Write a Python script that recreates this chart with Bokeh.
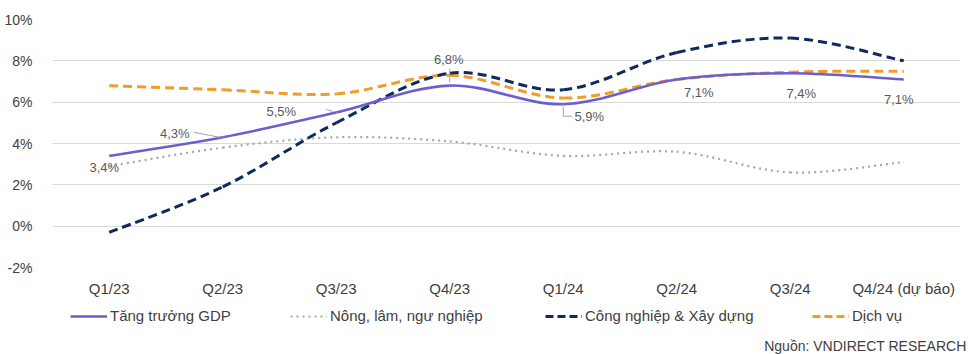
from bokeh.plotting import figure
from bokeh.layouts import column
from bokeh.models import (ColumnDataSource, Range1d, FixedTicker, Legend, LegendItem, Label)
from bokeh.core.properties import value
from bokeh.embed import file_html
from bokeh.resources import INLINE

# ---------------- data ----------------
categories = ["Q1/23", "Q2/23", "Q3/23", "Q4/23", "Q1/24", "Q2/24", "Q3/24", "Q4/24 (dự báo)"]
gdp = [3.4, 4.3, 5.5, 6.8, 5.9, 7.1, 7.4, 7.1]
nong_lam = [2.9, 3.8, 4.3, 4.1, 3.4, 3.6, 2.6, 3.1]
cong_nghiep = [-0.3, 1.9, 5.0, 7.4, 6.6, 8.4, 9.1, 8.0]
dich_vu = [6.8, 6.6, 6.4, 7.3, 6.2, 7.1, 7.45, 7.5]
gdp_labels = ["3,4%", "4,3%", "5,5%", "6,8%", "5,9%", "7,1%", "7,4%", "7,1%"]
y_ticks = [-2, 0, 2, 4, 6, 8, 10]
series_names = ["Tăng trưởng GDP", "Nông, lâm, ngư nghiệp", "Công nghiệp & Xây dựng", "Dịch vụ"]
source_text = "Nguồn: VNDIRECT RESEARCH"

FONT = "Liberation Sans"
TXT = "#404040"

p = figure(width=975, height=300, output_backend="svg", toolbar_location=None,
           x_range=Range1d(-0.5, 7.5), y_range=Range1d(-2, 10),
           min_border_left=52, min_border_right=15, min_border_top=19, min_border_bottom=33)
p.outline_line_color = None
p.background_fill_color = "white"
p.border_fill_color = "white"

p.xgrid.grid_line_color = None
p.ygrid.grid_line_color = "#D9D9D9"
p.ygrid.grid_line_width = 1
p.ygrid.ticker = FixedTicker(ticks=y_ticks)

p.yaxis.ticker = FixedTicker(ticks=y_ticks)
p.yaxis.major_label_overrides = {t: f"{t}%" for t in y_ticks}
p.yaxis.axis_line_color = None
p.yaxis.major_tick_line_color = None
p.yaxis.minor_tick_line_color = None
p.yaxis.major_label_standoff = 14
p.yaxis.major_label_text_font = FONT
p.yaxis.major_label_text_font_size = "14px"
p.yaxis.major_label_text_color = TXT

p.xaxis.ticker = FixedTicker(ticks=list(range(len(categories))))
p.xaxis.major_label_overrides = {i: c for i, c in enumerate(categories)}
p.xaxis.axis_line_color = None
p.xaxis.major_tick_line_color = None
p.xaxis.minor_tick_line_color = None
p.xaxis.major_label_standoff = 6
p.xaxis.major_label_text_font = FONT
p.xaxis.major_label_text_font_size = "15px"
p.xaxis.major_label_text_color = TXT


def smooth_source(vals):
    n = len(vals)
    xs = list(range(n))
    d = dict(x0=[], y0=[], x1=[], y1=[], cx0=[], cy0=[], cx1=[], cy1=[])
    for i in range(n - 1):
        im1 = max(i - 1, 0)
        ip2 = min(i + 2, n - 1)
        d["x0"].append(xs[i]); d["y0"].append(vals[i])
        d["x1"].append(xs[i + 1]); d["y1"].append(vals[i + 1])
        d["cx0"].append(xs[i] + (xs[i + 1] - xs[im1]) / 6)
        d["cy0"].append(vals[i] + (vals[i + 1] - vals[im1]) / 6)
        d["cx1"].append(xs[i + 1] - (xs[ip2] - xs[i]) / 6)
        d["cy1"].append(vals[i + 1] - (vals[ip2] - vals[i]) / 6)
    return ColumnDataSource(d)


GDP_ST = dict(line_color="#6A5FD0", line_width=2.6)
AGR_ST = dict(line_color="#A6A6A6", line_width=2.2, line_dash="2 4")
IND_ST = dict(line_color="#0F2A5C", line_width=3, line_dash="9 5")
SRV_ST = dict(line_color="#F29B26", line_width=3, line_dash="9 5")

for vals, st in [(nong_lam, AGR_ST), (dich_vu, SRV_ST), (cong_nghiep, IND_ST), (gdp, GDP_ST)]:
    p.bezier(x0="x0", y0="y0", x1="x1", y1="y1", cx0="cx0", cy0="cy0",
             cx1="cx1", cy1="cy1", source=smooth_source(vals), **st)

# leader lines (pixel offsets from data points converted to data units)
PX_X = 113.5
PX_Y = 248 / 12.0
leaders = [  # (index, dx0, dy0, dx1, dy1) in pixels, screen y down
    (1, -29, -5, -3, 0),
    (2, -10, -3, -3, -1),
    (3, 0, -17, 0, -3),
    (4, 0, 2, 0, 12),
    (4, 0, 12, 9, 12),
]
seg = dict(x0=[], y0=[], x1=[], y1=[])
for i, dx0, dy0, dx1, dy1 in leaders:
    seg["x0"].append(i + dx0 / PX_X); seg["y0"].append(gdp[i] - dy0 / PX_Y)
    seg["x1"].append(i + dx1 / PX_X); seg["y1"].append(gdp[i] - dy1 / PX_Y)
p.segment(x0="x0", y0="y0", x1="x1", y1="y1", source=ColumnDataSource(seg),
          line_color="#A6A6A6", line_width=1)

# data labels
label_dx = [-5, -48, -55, -1, 26, 22, 11, -5]
label_dy = [12, -4, -1, -26, 12, 13, 20, 20]
lab_src = ColumnDataSource(dict(x=list(range(len(gdp))), y=gdp, t=gdp_labels,
                                dx=label_dx, dy=label_dy))
p.text(x="x", y="y", text="t", source=lab_src, x_offset="dx", y_offset="dy",
       text_align="center", text_baseline="middle",
       text_font=value(FONT), text_font_size="13px", text_color="#595959")

# ---------------- legend + source strip ----------------
q = figure(width=975, height=54, output_backend="svg", toolbar_location=None,
           x_range=Range1d(0, 975), y_range=Range1d(0, 54),
           min_border=0, x_axis_type=None, y_axis_type=None)
q.outline_line_color = None
q.grid.visible = False
q.background_fill_color = "white"
q.border_fill_color = "white"
for fig in (p, q):
    if "frame_align" in fig.properties():
        fig.frame_align = False

legend_styles = [GDP_ST, AGR_ST, dict(IND_ST, line_dash="8 4"), dict(SRV_ST, line_dash="8 4")]
legend_x = [70, 290, 545, 812]
nan = float("nan")
for name, st, lx in zip(series_names, legend_styles, legend_x):
    r = q.line(x=[nan], y=[nan], **st)  # legend swatch only, draws nothing in the strip
    lg = Legend(items=[LegendItem(label=name, renderers=[r])], location=(lx, 30),
                orientation="horizontal", padding=0, margin=0, spacing=0,
                glyph_width=37, glyph_height=16, label_height=16, label_standoff=3,
                border_line_color=None, background_fill_alpha=0,
                label_text_font=FONT, label_text_font_size="15px", label_text_color=TXT)
    q.add_layout(lg, "center")

q.add_layout(Label(x=966, y=9, text=source_text,
                   text_align="right", text_baseline="middle",
                   text_font=FONT, text_font_size="14px", text_color=TXT))

layout = column(p, q, spacing=0)
open("out.html", "w").write(file_html(layout, INLINE))
